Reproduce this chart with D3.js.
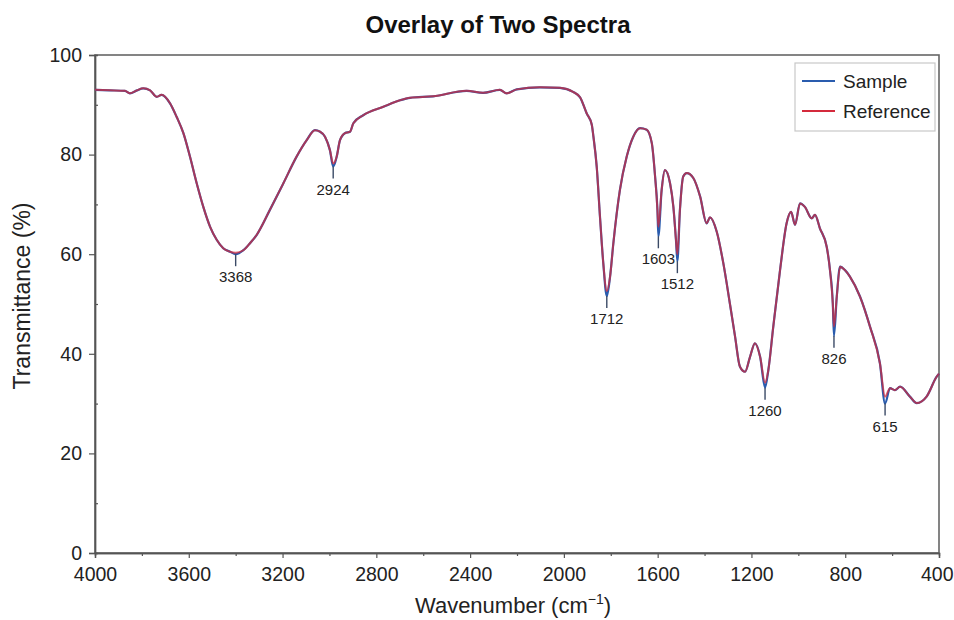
<!DOCTYPE html>
<html><head><meta charset="utf-8">
<script src="https://cdn.jsdelivr.net/npm/d3@7"></script>
<style>body{margin:0;background:#fff}svg{display:block}text{font-family:"Liberation Sans",Arial,sans-serif}</style>
</head><body><svg id="c" width="954" height="620"></svg>
<script>
const wavenumber = [4000,3936,3872,3851,3821,3794,3765,3737,3716,3680,3652,3623,3595,3566,3538,3509,3481,3453,3424,3400,3367,3339,3310,3254,3197,3140,3097,3062,3040,3019,2998,2984,2969,2955,2934,2912,2898,2856,2770,2699,2656,2558,2415,2345,2273,2244,2201,2102,2017,1961,1931,1903,1881,1874,1860,1846,1832,1817,1803,1789,1761,1732,1704,1675,1647,1625,1611,1601,1597,1583,1569,1547,1533,1522,1516,1505,1491,1476,1448,1419,1391,1377,1348,1320,1291,1270,1249,1227,1206,1185,1163,1142,1128,1107,1078,1050,1031,1014,993,972,943,929,908,879,865,853,848,836,822,801,780,737,694,652,630,609,588,566,524,495,453,410,400];
const sampleT = [93.0,92.9,92.8,92.3,92.9,93.3,92.9,91.6,92.0,90.3,87.6,84.3,79.6,74.2,69.5,65.5,62.9,61.2,60.5,60.0,60.8,62.2,63.9,68.9,74.2,79.6,82.9,84.9,84.6,83.6,80.9,77.6,79.6,82.9,84.3,84.6,86.3,87.9,89.6,90.9,91.4,91.7,92.8,92.4,93.0,92.3,93.1,93.5,93.4,92.6,91.5,88.3,86.0,83.6,77.6,67.5,58.2,51.6,55.5,62.2,72.9,79.6,83.6,85.3,85.0,82.3,75.6,68.9,63.6,72.9,76.9,74.2,69.5,62.9,58.6,68.9,75.6,76.3,75.3,71.6,66.2,67.4,64.5,58.2,49.8,43.5,37.4,36.4,39.4,42.1,39.4,33.2,36.7,45.4,56.8,66.2,68.5,65.9,70.2,69.5,67.2,67.9,65.2,61.5,56.8,50.1,43.6,51.5,57.5,56.8,55.5,51.5,45.4,38.1,30.0,33.1,32.7,33.4,31.4,30.1,31.4,35.4,36.0];
const referenceT = [93.0,92.9,92.8,92.3,92.9,93.3,92.9,91.6,92.0,90.3,87.6,84.3,79.6,74.2,69.5,65.5,62.9,61.2,60.5,60.3,60.8,62.2,63.9,68.9,74.2,79.6,82.9,84.9,84.6,83.6,80.9,78.2,79.6,82.9,84.3,84.6,86.3,87.9,89.6,90.9,91.4,91.7,92.8,92.4,93.0,92.3,93.1,93.5,93.4,92.6,91.5,88.3,86.0,83.6,77.6,67.5,58.2,52.6,55.5,62.2,72.9,79.6,83.6,85.3,85.0,82.3,75.6,68.9,65.5,72.9,76.9,74.2,69.5,62.9,60.0,68.9,75.6,76.3,75.3,71.6,66.2,67.4,64.5,58.2,49.8,43.5,37.4,36.4,39.4,42.1,39.4,34.2,36.7,45.4,56.8,66.2,68.5,65.9,70.2,69.5,67.2,67.9,65.2,61.5,56.8,50.1,45.5,51.5,57.5,56.8,55.5,51.5,45.4,38.1,31.4,33.1,32.7,33.4,31.4,30.1,31.4,35.4,36.0];
const peakPositions = [3400,2984,1817,1597,1516,1142,848,630];
const peakLabels = ["3368","2924","1712","1603","1512","1260","826","615"];
const xTicks = [4000,3600,3200,2800,2400,2000,1600,1200,800,400];
const yTicks = [0,20,40,60,80,100];
const seriesNames = ["Sample","Reference"];

const svg = d3.select("#c");
const m = {l:95, r:939, t:55, b:553};
const x = d3.scaleLinear().domain([4000,400]).range([m.l,m.r]);
const y = d3.scaleLinear().domain([0,100]).range([m.b,m.t]);
const colors = ["#2a5cae","#d42a3c"];

// title
svg.append("text").attr("x",498).attr("y",33).attr("text-anchor","middle")
  .attr("font-size",24).attr("font-weight","bold").attr("fill","#111").text("Overlay of Two Spectra");

// frame
svg.append("rect").attr("x",m.l).attr("y",m.t).attr("width",m.r-m.l).attr("height",m.b-m.t)
  .attr("fill","none").attr("stroke","#666").attr("stroke-width",1.6);

// axes
const xAxis = svg.append("g").attr("transform",`translate(0,${m.b})`)
  .call(d3.axisBottom(x).tickValues(xTicks).tickFormat(d3.format("d")).tickSize(5).tickPadding(9));
const xMinor = svg.append("g").attr("transform",`translate(0,${m.b})`)
  .call(d3.axisBottom(x).tickValues(d3.range(3800,400,-400)).tickFormat("").tickSize(3));
const yAxis = svg.append("g").attr("transform",`translate(${m.l},0)`)
  .call(d3.axisLeft(y).tickValues(yTicks).tickSize(6).tickPadding(7));
const yMinor = svg.append("g").attr("transform",`translate(${m.l},0)`)
  .call(d3.axisLeft(y).tickValues([10,30,50,70,90]).tickFormat("").tickSize(-3));
[xAxis,xMinor,yAxis,yMinor].forEach(g=>{
  g.select(".domain").attr("stroke","#555").attr("stroke-width",1.4);
  g.selectAll(".tick line").attr("stroke","#555").attr("stroke-width",1.2);
  g.selectAll(".tick text").attr("font-size",19.5).attr("fill","#222").attr("font-family","'Liberation Sans',Arial,sans-serif");
});
// keep the last tick label inside the picture
xAxis.selectAll(".tick text").filter(d=>d===400).attr("text-anchor","end").attr("x",14);

// axis labels
const xl = svg.append("text").attr("x",(m.l+m.r)/2 - 4).attr("y",613).attr("text-anchor","middle")
  .attr("font-size",22).attr("fill","#222");
xl.append("tspan").text("Wavenumber (cm");
xl.append("tspan").attr("font-size",14).attr("dy",-9).text("−1");
xl.append("tspan").attr("dy",9).text(")");
svg.append("text").attr("transform",`translate(30,296) rotate(-90)`).attr("text-anchor","middle")
  .attr("font-size",23).attr("fill","#222").text("Transmittance (%)");

// lines
const pts = arr => wavenumber.map((w,i)=>[w,arr[i]]);
const line = d3.line().x(d=>x(d[0])).y(d=>y(d[1])).curve(d3.curveMonotoneX);
svg.append("path").datum(pts(sampleT)).attr("d",line).attr("fill","none")
  .attr("stroke",colors[0]).attr("stroke-width",2.2).attr("stroke-linejoin","round");
svg.append("path").datum(pts(referenceT)).attr("d",line).attr("fill","none")
  .attr("stroke",colors[1]).attr("stroke-width",2).attr("stroke-opacity",0.72).attr("stroke-linejoin","round");

// peak markers
peakPositions.forEach((w,i)=>{
  const v = sampleT[wavenumber.indexOf(w)];
  const py = y(v);
  svg.append("line").attr("x1",x(w)).attr("x2",x(w)).attr("y1",py).attr("y2",py+12)
    .attr("stroke","#3b4a66").attr("stroke-width",1.4);
  svg.append("text").attr("x",x(w)).attr("y",py+28).attr("text-anchor","middle")
    .attr("font-size",15).attr("fill","#222").text(peakLabels[i]);
});

// legend
const lg = svg.append("g");
lg.append("rect").attr("x",795).attr("y",63).attr("width",140).attr("height",68)
  .attr("fill","#fff").attr("stroke","#c8c8c8").attr("stroke-width",1.2);
seriesNames.forEach((s,i)=>{
  const yy = 81 + i*30;
  lg.append("line").attr("x1",802).attr("x2",835).attr("y1",yy).attr("y2",yy)
    .attr("stroke",colors[i]).attr("stroke-width",2.2);
  lg.append("text").attr("x",843).attr("y",yy+7).attr("font-size",19).attr("fill","#222").text(s);
});
</script></body></html>
